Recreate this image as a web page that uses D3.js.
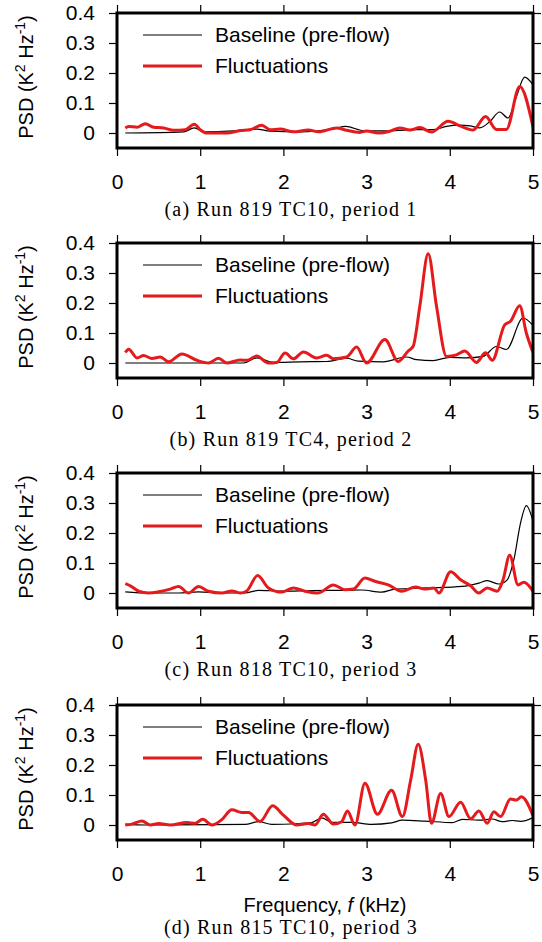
<!DOCTYPE html>
<html>
<head>
<meta charset="utf-8">
<script src="https://cdn.jsdelivr.net/npm/d3@7"></script>
<style>
body{margin:0;background:#fff;}
text{font-family:"Liberation Sans",Arial,sans-serif;fill:#000;}
.cap{font-family:"Liberation Serif","Times New Roman",serif;letter-spacing:1.2px;}
</style>
</head>
<body>
<svg></svg>
<script>
var freqTicks = [0,1,2,3,4,5];
var psdTicks = [0,0.1,0.2,0.3,0.4];
var legendLabels = ["Baseline (pre-flow)","Fluctuations"];
var captions = ["(a) Run 819 TC10, period 1","(b) Run 819 TC4, period 2",
                "(c) Run 818 TC10, period 3","(d) Run 815 TC10, period 3"];

// [frequency kHz, PSD]
var baseA = [[0.1,0],[0.8,0.004],[0.93,0.017],[1.04,0.004],[1.4,0.007],[1.68,0.013],[1.84,0.006],[2.2,0.004],
  [2.6,0.014],[2.75,0.022],[2.96,0.008],[3.2,0.007],[3.6,0.011],[3.8,0.011],[3.96,0.022],[4.12,0.026],[4.24,0.024],
  [4.36,0.017],[4.48,0.038],[4.6,0.07],[4.7,0.05],[4.8,0.12],[4.9,0.186],[5.0,0.16]];
var fluctA = [[0.1,0.017],[0.14,0.022],[0.24,0.019],[0.34,0.031],[0.44,0.019],[0.56,0.017],[0.68,0.009],[0.82,0.011],
  [0.93,0.029],[1.0,0.011],[1.08,0],[1.32,0],[1.48,0.008],[1.6,0.011],[1.74,0.026],[1.84,0.011],[1.96,0.013],[2.12,0.004],
  [2.3,0.01],[2.42,0.004],[2.64,0.017],[2.76,0.009],[2.92,0.002],[3.0,0.007],[3.14,0],[3.28,0.006],[3.4,0.017],[3.52,0.01],
  [3.64,0.018],[3.78,0.003],[3.98,0.039],[4.12,0.024],[4.28,0.01],[4.43,0.055],[4.56,0.012],[4.68,0.012],[4.84,0.155],[5.0,0.02]];

var baseB = [[0.1,0],[1.0,0],[1.52,0],[1.68,0.017],[1.88,0.002],[2.2,0.004],[2.52,0.005],[2.76,0.016],[2.9,0.006],[3.2,0.004],
  [3.48,0.02],[3.6,0.011],[3.8,0.008],[4.0,0.019],[4.2,0.017],[4.4,0.022],[4.56,0.055],[4.68,0.045],[4.88,0.15],[5.0,0.125]];
var fluctB = [[0.1,0.035],[0.14,0.046],[0.24,0.017],[0.32,0.025],[0.42,0.015],[0.52,0.02],[0.62,0.004],[0.78,0.03],[0.96,0.009],
  [1.1,0],[1.22,0.016],[1.32,0],[1.48,0.01],[1.56,0.009],[1.68,0.023],[1.82,0],[1.92,0.002],[2.02,0.033],[2.12,0.014],[2.24,0.037],
  [2.4,0.017],[2.52,0.026],[2.6,0.014],[2.76,0.02],[2.88,0.053],[3.0,0],[3.22,0.078],[3.38,0.005],[3.5,0.04],[3.56,0.056],
  [3.64,0.19],[3.74,0.364],[3.84,0.19],[3.96,0.022],[4.08,0.027],[4.18,0.04],[4.32,0.002],[4.43,0.034],[4.51,0.009],
  [4.66,0.127],[4.73,0.139],[4.84,0.191],[4.92,0.1],[5.0,0.035]];

var baseC = [[0.1,0.004],[0.38,0],[0.74,0],[0.98,0.004],[1.26,0],[1.54,0],[1.7,0.009],[1.98,0.006],[2.34,0.008],[2.74,0.009],
  [2.94,0.01],[3.18,0.003],[3.34,0.013],[3.74,0.017],[4.15,0.022],[4.35,0.033],[4.45,0.041],[4.59,0.03],[4.69,0.044],
  [4.77,0.111],[4.85,0.233],[4.92,0.291],[5.0,0.24]];
var fluctC = [[0.1,0.031],[0.16,0.024],[0.26,0.006],[0.38,0],[0.5,0.004],[0.64,0.013],[0.74,0.022],[0.86,0],[0.98,0.022],
  [1.1,0.006],[1.26,0],[1.38,0.007],[1.48,0],[1.56,0.007],[1.69,0.058],[1.82,0.017],[1.98,0.003],[2.12,0.017],[2.26,0.006],
  [2.42,0],[2.6,0.027],[2.74,0.011],[2.84,0.013],[2.98,0.05],[3.1,0.039],[3.26,0.027],[3.42,0.006],[3.59,0.02],[3.7,0.013],
  [3.81,0.017],[3.87,0],[4.01,0.071],[4.13,0.044],[4.25,0.024],[4.35,0],[4.45,0.017],[4.57,0.006],[4.64,0.044],[4.72,0.126],
  [4.82,0.027],[4.89,0.036],[5.0,0.006]];

var baseD = [[0.1,0.003],[0.34,0],[1.14,0.001],[1.54,0.002],[1.7,0.011],[1.86,0.002],[2.18,0.005],[2.34,0.008],[2.46,0.024],
  [2.58,0.009],[2.82,0.009],[3.06,0.002],[3.3,0.007],[3.43,0.016],[3.7,0.013],[4.03,0.008],[4.15,0.019],[4.35,0.016],
  [4.51,0.02],[4.63,0.011],[4.75,0.015],[4.85,0.012],[5.0,0.025]];
var fluctD = [[0.1,0],[0.18,0.003],[0.3,0.013],[0.4,0],[0.5,0.005],[0.64,0],[0.84,0.008],[0.94,0.006],[1.03,0.019],[1.14,0],
  [1.26,0.018],[1.38,0.051],[1.5,0.042],[1.58,0.042],[1.72,0.012],[1.87,0.064],[2.0,0.033],[2.16,0],[2.3,0.005],[2.38,0],
  [2.48,0.036],[2.6,0.003],[2.7,0.011],[2.77,0.047],[2.86,0],[2.98,0.139],[3.13,0.036],[3.3,0.116],[3.43,0.028],[3.53,0.15],
  [3.62,0.269],[3.71,0.15],[3.78,0.006],[3.89,0.105],[3.99,0.028],[4.13,0.076],[4.25,0.021],[4.35,0.047],[4.45,0.006],
  [4.53,0.044],[4.61,0.028],[4.73,0.087],[4.8,0.083],[4.86,0.094],[5.0,0.031]];

var panels = [
  {base:baseA, fluct:fluctA, caption:captions[0], top:13},
  {base:baseB, fluct:fluctB, caption:captions[1], top:243},
  {base:baseC, fluct:fluctC, caption:captions[2], top:473},
  {base:baseD, fluct:fluctD, caption:captions[3], top:705, xlabel:true}
];

var red = "#e41a1c";
var plotH = 135;

var svg = d3.select("svg")
            .attr("width",542)
            .attr("height",942);

var x = d3.scaleLinear()
          .domain([0,5])
          .range([117,533]);

var drawPanel = function(p,i)
{
  var y = d3.scaleLinear()
            .domain([-0.05,0.4])
            .range([p.top+plotH, p.top]);

  var g = svg.append("g");

  g.append("clipPath")
   .attr("id","clip"+i)
   .append("rect")
   .attr("x",x(0)).attr("y",p.top)
   .attr("width",x(5)-x(0)).attr("height",plotH);

  var line = d3.line()
               .x(function(d){return x(d[0]);})
               .y(function(d){return y(d[1]);})
               .curve(d3.curveMonotoneX);

  // axes: ticks outward on all four sides
  g.append("g").attr("transform","translate("+x(0)+",0)")
   .call(d3.axisLeft(y).tickValues(psdTicks).tickSize(8).tickPadding(14)
           .tickFormat(function(d){return d===0 ? "0" : d3.format(".1f")(d);}));
  g.append("g").attr("transform","translate(0,"+(p.top+plotH)+")")
   .call(d3.axisBottom(x).tickValues(freqTicks).tickSize(8).tickPadding(18).tickFormat(d3.format("d")));
  g.append("g").attr("transform","translate(0,"+p.top+")")
   .call(d3.axisTop(x).tickValues(freqTicks).tickSize(8).tickFormat(""));
  g.append("g").attr("transform","translate("+x(5)+",0)")
   .call(d3.axisRight(y).tickValues(psdTicks).tickSize(8).tickFormat(""));

  g.selectAll(".domain").remove();
  g.selectAll(".tick line").attr("stroke","#000").attr("stroke-width",1.2);
  g.selectAll(".tick text").attr("font-size",21).attr("font-family","Liberation Sans, Arial, sans-serif");

  g.append("path")
   .datum(p.base)
   .attr("d",line)
   .attr("fill","none")
   .attr("stroke","#000")
   .attr("stroke-width",1.2)
   .attr("clip-path","url(#clip"+i+")");

  g.append("path")
   .datum(p.fluct)
   .attr("d",line)
   .attr("fill","none")
   .attr("stroke",red)
   .attr("stroke-width",3)
   .attr("stroke-linejoin","round")
   .attr("clip-path","url(#clip"+i+")");

  g.append("rect")
   .attr("x",x(0)).attr("y",p.top)
   .attr("width",x(5)-x(0)).attr("height",plotH)
   .attr("fill","none")
   .attr("stroke","#000")
   .attr("stroke-width",3);

  // legend
  var leg = g.append("g")
             .selectAll("g")
             .data(legendLabels)
             .enter()
             .append("g")
             .attr("transform",function(d,j){return "translate(143,"+(p.top+22+j*31)+")";});
  leg.append("line")
     .attr("x1",0).attr("x2",59)
     .attr("stroke",function(d,j){return j===0 ? "#000" : red;})
     .attr("stroke-width",function(d,j){return j===0 ? 1.2 : 3;});
  leg.append("text")
     .attr("x",72)
     .attr("dy","0.35em")
     .attr("font-size",21)
     .text(function(d){return d;});

  // y label
  var yl = g.append("text")
            .attr("transform","translate(33,"+(p.top+64)+") rotate(-90)")
            .attr("text-anchor","middle")
            .attr("font-size",20);
  yl.append("tspan").text("PSD (K");
  yl.append("tspan").attr("dy",-8).attr("font-size",14).text("2");
  yl.append("tspan").attr("dy",8).text(" Hz");
  yl.append("tspan").attr("dy",-8).attr("font-size",14).text("-1");
  yl.append("tspan").attr("dy",8).text(")");

  if (p.xlabel){
    var xl = g.append("text")
              .attr("x",325)
              .attr("y",p.top+207)
              .attr("text-anchor","middle")
              .attr("font-size",20);
    xl.append("tspan").text("Frequency, ");
    xl.append("tspan").attr("font-style","italic").text("f");
    xl.append("tspan").text(" (kHz)");
  }

  g.append("text")
   .attr("class","cap")
   .attr("x",291)
   .attr("y",p.top + (p.xlabel ? 229 : 203))
   .attr("text-anchor","middle")
   .attr("font-size",20)
   .text(p.caption);
};

panels.forEach(drawPanel);
</script>
</body>
</html>
